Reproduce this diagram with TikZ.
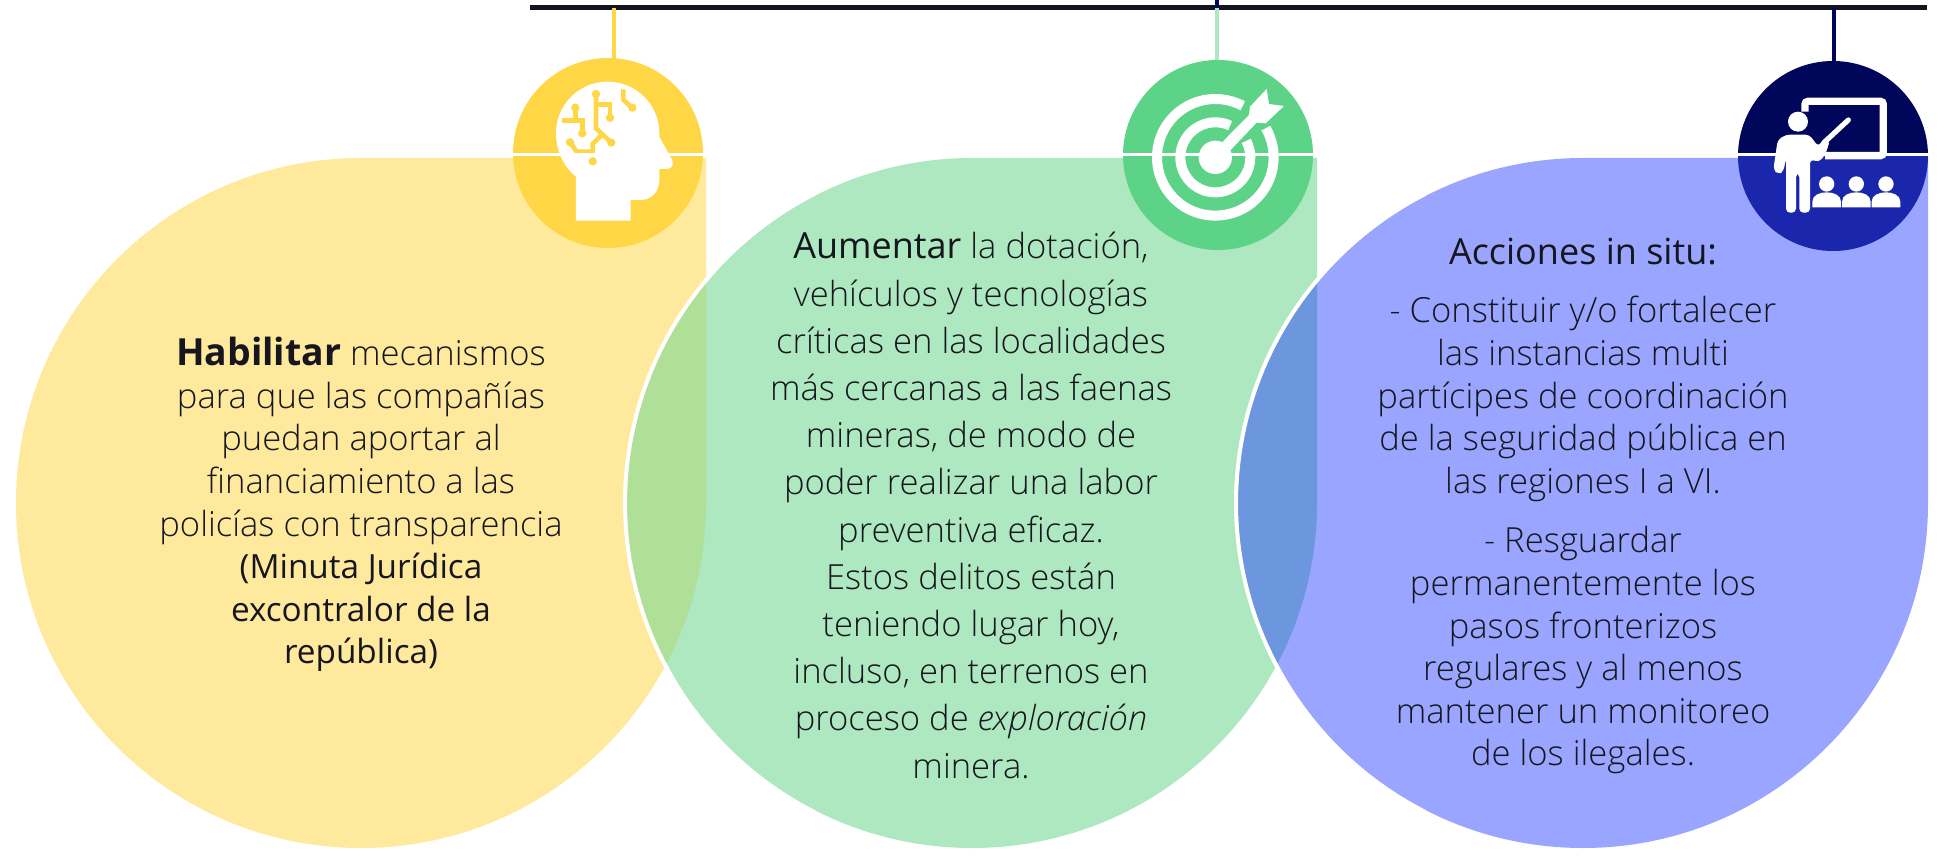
\documentclass[tikz,border=0pt]{standalone}
\usepackage{fontspec}
\setmainfont{Open Sans Light}[ItalicFont={Open Sans Light Italic},BoldFont={Open Sans Bold}]
\newfontfamily\osreg{Open Sans}
\definecolor{ytear}{HTML}{FEE99D}
\definecolor{yicon}{HTML}{FFD746}
\definecolor{gtear}{HTML}{AEE8C0}
\definecolor{gicon}{HTML}{5CD387}
\definecolor{btear}{HTML}{99A5FF}
\definecolor{bup}{HTML}{000659}
\definecolor{blow}{HTML}{1A27AD}
\definecolor{ygmix}{HTML}{B0DF97}
\definecolor{gbmix}{HTML}{6C96DE}
\definecolor{barcol}{HTML}{14141F}
\definecolor{txt}{HTML}{16161E}
\tikzset{
  bodytext/.style={align=center,text=txt,font=\fontsize{34.6}{42.6}\selectfont,inner sep=0pt},
  stemline/.style={line width=4pt},
  divider/.style={draw=white,line width=3pt},
}
\newcommand{\lead}[2]{{\fontsize{#1}{42.6}\selectfont\osreg #2}}
% teardrop of centre (#1,503), radius 345
\newcommand{\tear}[1]{(#1+345,158) -- (#1,158) arc[start angle=270,end angle=0,radius=345] -- cycle}
\newcommand{\icondisc}[5]{% x y r upper lower
  \begin{scope}
    \clip (#1-#3-1,#2-#3-1) rectangle (#1+#3+1,155);
    \fill[#4] (#1,#2) circle[radius=#3];
  \end{scope}
  \begin{scope}
    \clip (#1-#3-1,155) rectangle (#1+#3+1,#2+#3+1);
    \fill[#5] (#1,#2) circle[radius=#3];
  \end{scope}}
\begin{document}
\begin{tikzpicture}[x=1pt,y=-1pt]
\useasboundingbox (0,0) rectangle (1944,856);
% teardrops
\fill[ytear] \tear{361};
\fill[gtear] \tear{972};
\begin{scope}
  \clip \tear{361};
  \fill[ygmix] \tear{972};
\end{scope}
\draw[white,line width=4pt] (625,503) arc[start angle=180,end angle=243,radius=347];
\draw[white,line width=4pt] (625,503) arc[start angle=180,end angle=117,radius=347];
\fill[btear] \tear{1583};
\begin{scope}
  \clip \tear{972};
  \fill[gbmix] \tear{1583};
\end{scope}
\draw[white,line width=4pt] (1236,503) arc[start angle=180,end angle=243,radius=347];
\draw[white,line width=4pt] (1236,503) arc[start angle=180,end angle=117,radius=347];
% top bar and stems
\coordinate (barL) at (530,7.5);
\coordinate (barR) at (1927,7.5);
\coordinate (s1t) at (614,8);
\coordinate (s1b) at (614,59);
\coordinate (s2t) at (1217,8);
\coordinate (s2b) at (1217,61);
\coordinate (s2n) at (1217,0);
\coordinate (s3t) at (1834,8);
\coordinate (s3b) at (1834,62);
\draw[barcol,line width=5pt] (barL) -- (barR);
\draw[bup,stemline] (s2n) -- (s2t);
\draw[yicon,stemline] (s1t) -- (s1b);
\draw[gtear,stemline] (s2t) -- (s2b);
\draw[bup,stemline] (s3t) -- (s3b);
% icon discs
\icondisc{608}{153}{95}{yicon}{yicon}
\icondisc{1218}{155}{95}{gicon}{gicon}
\icondisc{1833}{156}{95}{bup}{blow}
% head icon
\begin{scope}[shift={(480,0)},x=0.3333pt,y=-0.3333pt]
  \fill[white] (288,662) -- (452,662) -- (452,600) -- (480,600)
    .. controls (515,600) and (538,575) .. (538,540) -- (538,507) -- (560,507)
    .. controls (578,507) and (585,490) .. (572,472) -- (538,410) -- (538,400)
    arc[start angle=0,end angle=-180,radius=155]
    .. controls (228,450) and (250,500) .. (288,530) -- cycle;
  \begin{scope}[yicon,line width=4.6pt]
    \draw (348,282) -- (348,385) -- (394,428);
    \draw (348,313) -- (390,313) -- (390,353);
    \draw (365,405) -- (338,432) -- (338,455) -- (290,455) -- (270,427);
    \draw (286,323) -- (286,362);
    \draw (247,362) -- (307,362) -- (307,400);
    \draw (430,268) -- (430,300) -- (457,323);
    \foreach \p in {(348,282),(394,428),(390,353),(270,427),(286,323),(307,400),(457,323),(338,484)}
      \fill \p circle[radius=12.5];
  \end{scope}
\end{scope}
% target icon
\begin{scope}[shift={(1100,0)},x=0.3333pt,y=-0.3333pt]
  \fill[white] (346,472) circle[radius=50];
  \draw[white,line width=10pt] (346,472) ++(-62:175) arc[start angle=-62,end angle=-390,radius=175];
  \draw[white,line width=10pt] (346,472) ++(-65:105) arc[start angle=-65,end angle=-388,radius=105];
  \fill[white] (368,425) -- (447,345) -- (450,320) -- (500,267) -- (507,312) -- (552,318)
     -- (497,370) -- (470,368) -- (392,450) -- cycle;
\end{scope}
% teacher icon
\begin{scope}[shift={(1710,0)},x=0.3333pt,y=-0.3333pt]
  \draw[white,line width=7.3pt,rounded corners=3pt] (285,335) -- (285,304) -- (520,304) -- (520,467) -- (345,467);
  \fill[white] (264,365) circle[radius=30];
  \fill[white,rounded corners=4pt] (203,420) -- (228,404) -- (298,404) -- (325,440) -- (343,412) -- (360,420) -- (347,462) -- (328,486) -- (300,478)
     -- (300,638) -- (268,638) -- (268,520) -- (258,520) -- (258,638) -- (228,638) -- (228,475) -- (220,515) -- (205,523) -- (190,510) -- cycle;
  \draw[white,line width=5.2pt,line cap=round] (345,425) -- (415,360);
  \foreach \c in {350,439,528}{
    \fill[white] (\c,552) circle[radius=23];
    \fill[white] (\c-43,622) -- (\c-43,605) .. controls (\c-43,585) and (\c-20,577) .. (\c,577)
       .. controls (\c+20,577) and (\c+43,585) .. (\c+43,605) -- (\c+43,622) -- cycle;
  }
\end{scope}
% dividers
\draw[divider] (513,155) -- (706,155);
\draw[divider] (1123,155) -- (1317,155);
\draw[divider] (1738,155) -- (1929,155);
% texts
\node[bodytext] (t1) at (361,504.5) {{\fontsize{37.4}{42.6}\selectfont\bfseries Habilitar} mecanismos\\para que las compañías\\puedan aportar al\\financiamiento a las\\policías con transparencia\\\lead{33.3}{(Minuta Jurídica}\\\lead{33.3}{excontralor de la}\\\lead{33.3}{república)}};
\node[bodytext,font=\fontsize{34.6}{47.2}\selectfont] (t2) at (971,505.5) {\lead{36}{Aumentar} la dotación,\\vehículos y tecnologías\\críticas en las localidades\\más cercanas a las faenas\\mineras, de modo de\\poder realizar una labor\\preventiva eficaz.\\Estos delitos están\\teniendo lugar hoy,\\incluso, en terrenos en\\proceso de \textit{exploración}\\minera.};
\node[bodytext] (t3a) at (1583,252) {\lead{36}{Acciones in situ:}};
\node[bodytext] (t3b) at (1583,399) {- Constituir y/o fortalecer\\las instancias multi\\partícipes de coordinación\\de la seguridad pública en\\las regiones I a VI.};
\node[bodytext] (t3c) at (1583,650.5) {- Resguardar\\permanentemente los\\pasos fronterizos\\regulares y al menos\\mantener un monitoreo\\de los ilegales.};
\end{tikzpicture}
\end{document}
